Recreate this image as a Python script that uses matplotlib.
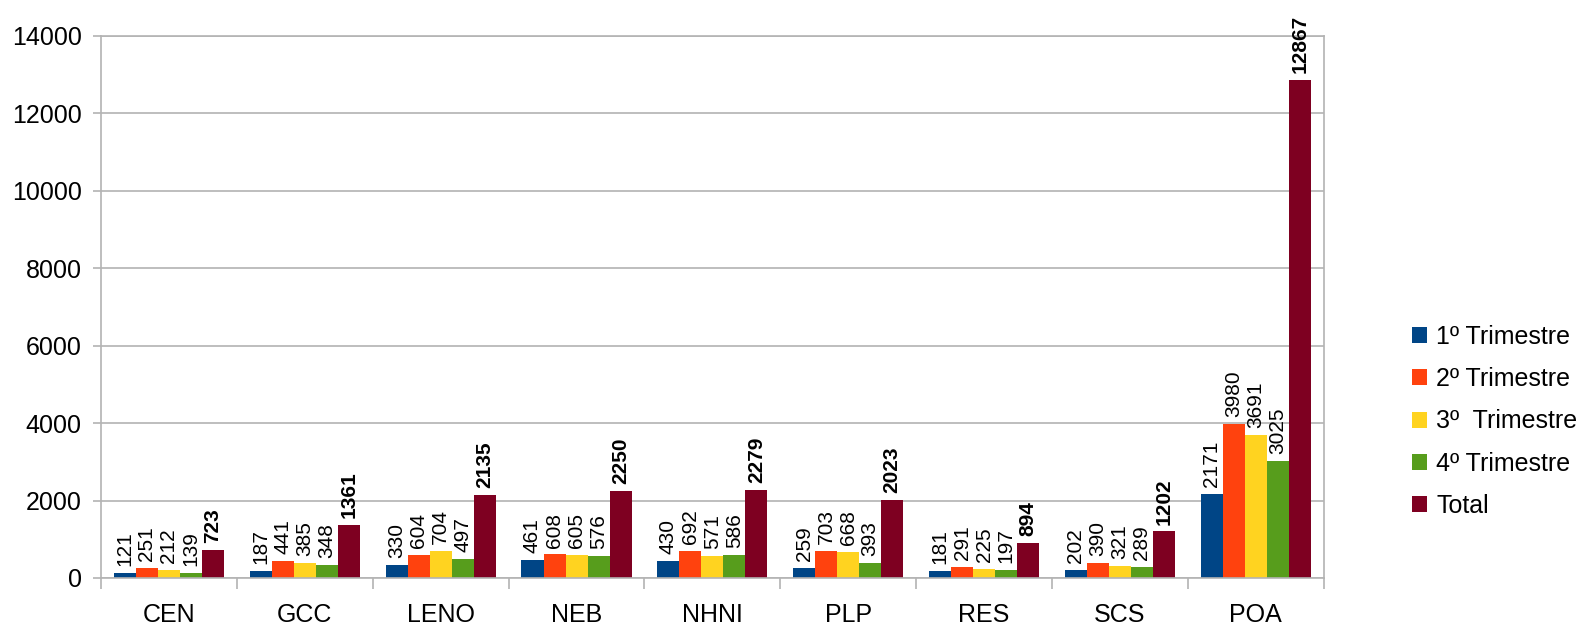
import numpy as np
import matplotlib
matplotlib.use("Agg")
import matplotlib.pyplot as plt
from matplotlib.ticker import FixedLocator

plt.rcParams['font.family'] = ['Liberation Sans', 'DejaVu Sans']

# data
regions = ['CEN', 'GCC', 'LENO', 'NEB', 'NHNI', 'PLP', 'RES', 'SCS', 'POA']
series_names = ['1º Trimestre', '2º Trimestre', '3º  Trimestre', '4º Trimestre', 'Total']
q1 = [121, 187, 330, 461, 430, 259, 181, 202, 2171]
q2 = [251, 441, 604, 608, 692, 703, 291, 390, 3980]
q3 = [212, 385, 704, 605, 571, 668, 225, 321, 3691]
q4 = [139, 348, 497, 576, 586, 393, 197, 289, 3025]
total = [723, 1361, 2135, 2250, 2279, 2023, 894, 1202, 12867]
colors = ['#004586', '#ff420e', '#ffd320', '#579d1c', '#7e0021']

fig = plt.figure(figsize=(15.91, 6.26), dpi=100)
ax = fig.add_axes([0.0635, 0.0767, 0.7685, 0.8658])

x = np.arange(len(regions))
bw = 0.162
all_series = [q1, q2, q3, q4, total]
for i, (vals, name, col) in enumerate(zip(all_series, series_names, colors)):
    pos = x + (i - 2) * bw
    ax.bar(pos, vals, width=bw, color=col, label=name, zorder=2)
    bold = (i == 4)
    for p, v in zip(pos, vals):
        ax.annotate(str(v), (p, v), xytext=(0, 5), textcoords='offset points',
                    rotation=90, ha='center', va='bottom', fontsize=15,
                    fontweight='bold' if bold else 'normal', zorder=3)

ax.set_xlim(-0.5, len(regions) - 0.5)
ax.set_ylim(0, 14000)
ax.set_yticks(np.arange(0, 14001, 2000))
ax.set_xticks(x)
ax.set_xticklabels(regions)
ax.xaxis.set_minor_locator(FixedLocator(np.arange(-0.5, len(regions), 1.0)))
ax.tick_params(axis='x', which='major', length=0, pad=18, labelsize=18)
ax.tick_params(axis='x', which='minor', length=8, color='#b3b3b3', width=1.2)
ax.tick_params(axis='y', length=6, color='#b3b3b3', width=1.2, labelsize=18, pad=8)
ax.grid(axis='y', color='#b3b3b3', linewidth=1.2, zorder=0)
ax.set_axisbelow(True)
for s in ax.spines.values():
    s.set_color('#b3b3b3')
    s.set_linewidth(1.2)

ax.legend(loc='center left', bbox_to_anchor=(1.054, 0.289), frameon=False,
          fontsize=18, handlelength=0.61, handleheight=0.61, handletextpad=0.35,
          labelspacing=0.73, borderpad=0.4)

fig.savefig('out.png', dpi=100)
